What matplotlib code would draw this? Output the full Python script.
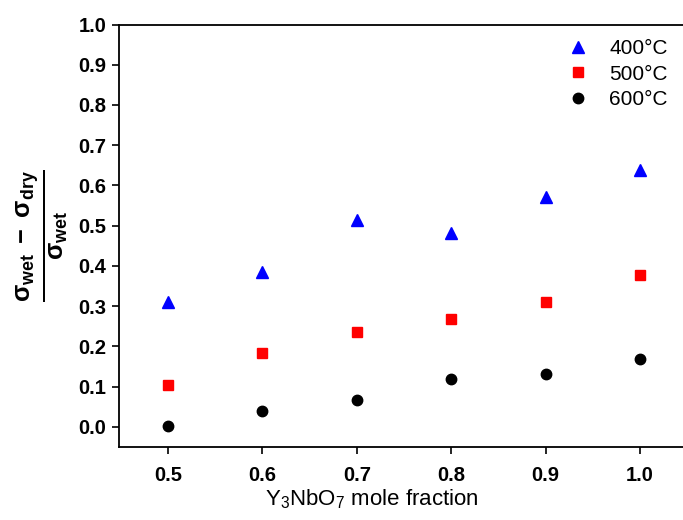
import matplotlib
matplotlib.use("Agg")
import matplotlib.pyplot as plt

# Y3NbO7 mole fraction
mole_fraction = [0.5, 0.6, 0.7, 0.8, 0.9, 1.0]

# (sigma_wet - sigma_dry) / sigma_wet
ratio_400 = [0.311, 0.385, 0.514, 0.481, 0.571, 0.639]
ratio_500 = [0.103, 0.184, 0.236, 0.269, 0.311, 0.378]
ratio_600 = [0.002, 0.040, 0.066, 0.118, 0.132, 0.168]

x_ticks = [0.5, 0.6, 0.7, 0.8, 0.9, 1.0]
y_ticks = [0.0, 0.1, 0.2, 0.3, 0.4, 0.5, 0.6, 0.7, 0.8, 0.9, 1.0]

plt.rcParams["font.family"] = ["Liberation Sans", "DejaVu Sans"]
plt.rcParams["mathtext.fontset"] = "custom"
plt.rcParams["mathtext.rm"] = "Liberation Sans"
plt.rcParams["mathtext.it"] = "Liberation Sans"
plt.rcParams["mathtext.bf"] = "Liberation Sans:bold"

fig = plt.figure(figsize=(6.83, 5.2), dpi=100)
# the right side of the frame is cut off in the original
ax = fig.add_axes([119 / 683, 73 / 520, 581 / 683, 422.5 / 520])

ax.plot(mole_fraction, ratio_400, linestyle="none", marker="^", color="#0000ff",
        markersize=9, label="400°C")
ax.plot(mole_fraction, ratio_500, linestyle="none", marker="s", color="#ff0000",
        markersize=6.5, label="500°C")
ax.plot(mole_fraction, ratio_600, linestyle="none", marker="o", color="black",
        markersize=7.5, label="600°C")

ax.set_xlim(0.448, 1.0636)
ax.set_ylim(-0.05, 1.0)
ax.set_xticks(x_ticks)
ax.set_yticks(y_ticks)
ax.set_xticklabels([f"{v:.1f}" for v in x_ticks], fontsize=14.5, fontweight="bold")
ax.set_yticklabels([f"{v:.1f}" for v in y_ticks], fontsize=14.5, fontweight="bold")
ax.tick_params(direction="out", length=5, width=1.2, pad=4)
ax.tick_params(axis="x", pad=9)

for side in ["left", "bottom", "top"]:
    ax.spines[side].set_linewidth(1.3)
ax.spines["right"].set_visible(False)

ax.set_xlabel(r"Y$_3$NbO$_7$ mole fraction", fontsize=16)
ax.xaxis.set_label_coords((372 - 119) / 581, -0.095)
ax.set_ylabel(r"$\mathbf{\frac{\sigma_{wet}\ -\ \sigma_{dry}}{\sigma_{wet}}}$",
              fontsize=26, labelpad=6)

ax.legend(loc="upper right", frameon=False, fontsize=15, handletextpad=0.5,
          borderaxespad=0.3, labelspacing=0.32, bbox_to_anchor=(0.97, 1.0))

fig.savefig("out.png", dpi=100)
